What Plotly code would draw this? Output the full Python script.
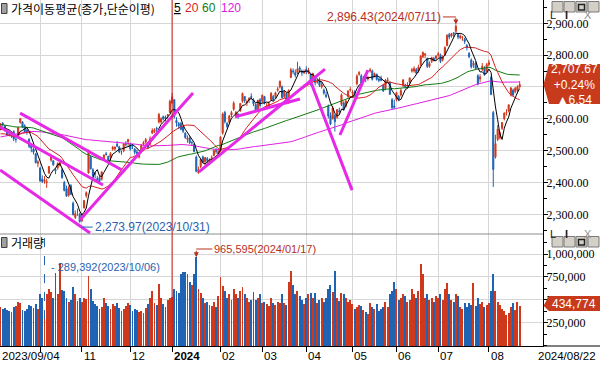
import pandas as pd
import plotly.graph_objects as go

# ---------------- data ----------------
START, END = "2023-09-04", "2024-08-22"
HOLIDAYS = ["2023-09-28", "2023-09-29", "2023-10-02", "2023-10-03", "2023-10-09",
            "2023-12-25", "2023-12-29", "2024-01-01", "2024-02-09", "2024-02-12",
            "2024-03-01", "2024-04-10", "2024-05-01", "2024-05-06", "2024-05-15",
            "2024-06-06", "2024-08-15"]

OPEN = [
    # 2023-09
    2566, 2586, 2578, 2560, 2551, 2552, 2560, 2535, 2540, 2588, 2590, 2578, 2565, 2536, 2515, 2505, 2490, 2460,
    # 2023-10
    2446, 2410, 2403, 2400, 2430, 2470, 2468, 2440, 2446, 2455, 2440, 2400, 2380, 2360, 2390, 2335, 2290, 2310, 2300,
    # 2023-11
    2280, 2320, 2358, 2430, 2480, 2440, 2430, 2412, 2415, 2410, 2470, 2490, 2482, 2480, 2505, 2505, 2520, 2512, 2495, 2500, 2520, 2528,
    # 2023-12
    2520, 2515, 2505, 2496, 2480, 2500, 2520, 2527, 2525, 2520, 2555, 2560, 2570, 2590, 2590, 2607, 2605, 2610, 2620,
    # 2024-01
    2650, 2660, 2595, 2585, 2585, 2575, 2555, 2535, 2540, 2525, 2520, 2480, 2430, 2450, 2480, 2465, 2475, 2465, 2472, 2485, 2500, 2490,
    # 2024-02
    2500, 2555, 2620, 2585, 2590, 2612, 2630, 2610, 2615, 2625, 2655, 2670, 2650, 2660, 2670, 2660, 2645, 2630, 2660,
    # 2024-03
    2655, 2670, 2640, 2640, 2660, 2670, 2670, 2690, 2700, 2700, 2670, 2680, 2650, 2730, 2750, 2745, 2745, 2760, 2750, 2745,
    # 2024-04
    2755, 2745, 2740, 2720, 2725, 2715, 2720, 2700, 2690, 2675, 2640, 2610, 2600, 2610, 2605, 2625, 2645, 2650, 2640, 2670, 2690,
    # 2024-05
    2680, 2685, 2710, 2740, 2735, 2725, 2730, 2725, 2750, 2750, 2735, 2740, 2725, 2725, 2705, 2695, 2720, 2715, 2660, 2640,
    # 2024-06
    2660, 2670, 2675, 2705, 2705, 2705, 2715, 2750, 2750, 2755, 2750, 2770, 2795, 2800, 2790, 2765, 2780, 2790, 2790,
    # 2024-07
    2800, 2800, 2785, 2800, 2830, 2865, 2860, 2870, 2875, 2865, 2855, 2855, 2850, 2830, 2805, 2785, 2770, 2775, 2735, 2725, 2755, 2760, 2750,
    # 2024-08
    2770, 2730, 2620, 2480, 2535, 2540, 2570, 2600, 2620, 2625, 2675, 2690, 2685, 2690, 2700,
]
HIGH = [
    2587, 2590, 2581, 2566, 2560, 2560, 2564, 2545, 2575, 2601, 2593, 2583, 2570, 2538, 2517, 2510, 2493, 2470,
    2447, 2422, 2420, 2412, 2452, 2484, 2470, 2445, 2463, 2474, 2445, 2405, 2390, 2390, 2395, 2340, 2312, 2318, 2305,
    2302, 2345, 2372, 2502, 2485, 2445, 2432, 2420, 2420, 2435, 2488, 2496, 2484, 2495, 2515, 2513, 2530, 2515, 2500, 2523, 2530, 2537,
    2525, 2520, 2508, 2503, 2496, 2520, 2530, 2540, 2527, 2545, 2570, 2570, 2575, 2618, 2605, 2610, 2610, 2615, 2660,
    2681, 2662, 2605, 2590, 2590, 2577, 2558, 2548, 2545, 2530, 2523, 2485, 2450, 2475, 2485, 2480, 2480, 2475, 2485, 2503, 2508, 2505,
    2545, 2620, 2625, 2590, 2612, 2625, 2655, 2625, 2618, 2650, 2682, 2672, 2660, 2668, 2680, 2665, 2650, 2660, 2665,
    2676, 2672, 2650, 2655, 2684, 2675, 2685, 2700, 2720, 2705, 2690, 2682, 2692, 2760, 2758, 2755, 2779, 2765, 2755, 2755,
    2765, 2760, 2745, 2745, 2730, 2725, 2730, 2715, 2695, 2685, 2645, 2620, 2640, 2615, 2630, 2635, 2680, 2655, 2660, 2690, 2700,
    2690, 2690, 2740, 2750, 2740, 2735, 2735, 2735, 2760, 2755, 2745, 2742, 2730, 2735, 2710, 2725, 2730, 2718, 2665, 2660,
    2685, 2675, 2695, 2725, 2710, 2715, 2730, 2760, 2765, 2760, 2770, 2800, 2812, 2805, 2792, 2780, 2795, 2795, 2800,
    2810, 2805, 2800, 2828, 2866, 2870, 2870, 2872, 2896.43, 2870, 2865, 2860, 2855, 2835, 2810, 2790, 2782, 2780, 2740, 2740, 2775, 2765, 2775,
    2785, 2735, 2625, 2550, 2580, 2560, 2590, 2620, 2630, 2645, 2700, 2695, 2700, 2705, 2718,
]
LOW = [
    2565, 2575, 2561, 2547, 2545, 2540, 2530, 2525, 2539, 2585, 2571, 2555, 2550, 2508, 2495, 2488, 2460, 2448,
    2402, 2398, 2396, 2383, 2427, 2465, 2452, 2426, 2440, 2450, 2412, 2372, 2355, 2355, 2360, 2296, 2285, 2295, 2273.97,
    2276, 2318, 2352, 2428, 2441, 2415, 2412, 2400, 2397, 2406, 2468, 2484, 2465, 2470, 2500, 2500, 2510, 2492, 2487, 2495, 2513, 2515,
    2500, 2505, 2488, 2485, 2475, 2498, 2515, 2522, 2505, 2518, 2552, 2555, 2555, 2585, 2585, 2595, 2592, 2600, 2618,
    2646, 2601, 2575, 2568, 2564, 2555, 2537, 2525, 2520, 2515, 2495, 2432, 2428, 2445, 2460, 2455, 2460, 2460, 2470, 2482, 2490, 2485,
    2495, 2550, 2585, 2570, 2585, 2605, 2625, 2605, 2600, 2622, 2650, 2650, 2640, 2650, 2660, 2640, 2620, 2625, 2635,
    2650, 2645, 2630, 2635, 2658, 2655, 2665, 2685, 2695, 2665, 2665, 2650, 2648, 2728, 2740, 2730, 2740, 2745, 2735, 2740,
    2740, 2740, 2705, 2715, 2705, 2710, 2700, 2695, 2675, 2665, 2601, 2580, 2598, 2560, 2600, 2615, 2640, 2625, 2635, 2665, 2685,
    2670, 2670, 2705, 2735, 2710, 2720, 2715, 2720, 2745, 2720, 2730, 2720, 2715, 2718, 2685, 2690, 2715, 2675, 2630, 2630,
    2655, 2655, 2670, 2700, 2695, 2695, 2710, 2745, 2745, 2740, 2745, 2765, 2790, 2790, 2760, 2760, 2775, 2780, 2785,
    2795, 2775, 2780, 2798, 2828, 2850, 2855, 2855, 2870, 2850, 2850, 2845, 2835, 2815, 2790, 2758, 2760, 2755, 2705, 2715, 2750, 2735, 2745,
    2765, 2675, 2386, 2475, 2530, 2535, 2565, 2595, 2610, 2620, 2670, 2670, 2680, 2680, 2698,
]
CLOSE = [
    2584, 2582, 2563, 2548, 2547, 2557, 2537, 2535, 2572, 2601, 2574, 2559, 2559, 2514, 2508, 2495, 2462, 2465,
    2405, 2403, 2408, 2402, 2450, 2479, 2456, 2436, 2460, 2462, 2415, 2375, 2357, 2383, 2363, 2299, 2302, 2310, 2277,
    2301, 2343, 2368, 2502, 2443, 2421, 2427, 2409, 2403, 2433, 2486, 2488, 2469, 2491, 2510, 2511, 2514, 2496, 2495, 2521, 2520, 2535,
    2505, 2514, 2495, 2492, 2492, 2517, 2525, 2535, 2510, 2537, 2563, 2566, 2568, 2614, 2600, 2599, 2602, 2613, 2655,
    2669, 2607, 2587, 2578, 2567, 2561, 2541, 2540, 2525, 2525, 2497, 2435, 2440, 2472, 2464, 2478, 2469, 2470, 2478, 2500, 2498, 2497,
    2543, 2615, 2591, 2576, 2609, 2620, 2649, 2620, 2613, 2648, 2680, 2657, 2653, 2664, 2667, 2647, 2625, 2658, 2642,
    2674, 2649, 2641, 2647, 2680, 2660, 2682, 2693, 2718, 2666, 2685, 2656, 2690, 2754, 2748, 2737, 2757, 2755, 2745, 2746,
    2747, 2753, 2706, 2742, 2714, 2717, 2705, 2706, 2681, 2670, 2609, 2584, 2634, 2591, 2629, 2623, 2675, 2628, 2656, 2687, 2692,
    2683, 2676, 2734, 2745, 2712, 2727, 2727, 2730, 2753, 2724, 2742, 2724, 2721, 2721, 2687, 2722, 2722, 2677, 2635, 2636,
    2682, 2662, 2689, 2722, 2701, 2705, 2728, 2754, 2758, 2744, 2763, 2797, 2808, 2804, 2764, 2774, 2792, 2784, 2797,
    2804, 2780, 2794, 2824, 2862, 2857, 2867, 2867, 2891, 2857, 2860, 2856, 2843, 2824, 2795, 2763, 2774, 2758, 2710, 2731, 2765, 2738, 2770,
    2777, 2676, 2441, 2522, 2568, 2556, 2588, 2618, 2621, 2644, 2697, 2675, 2696, 2701, 2707.67,
]
VOLUME = [  # thousand shares
    420000, 400000, 410000, 390000, 380000, 370000, 420000, 430000, 480000, 460000, 390000, 380000, 400000, 440000, 430000, 410000, 450000, 400000,
    560000, 520000, 289392, 560000, 620000, 590000, 520000, 790000, 560000, 900000, 610000, 600000, 520000, 480000, 500000, 640000, 560000, 490000, 520000,
    480000, 520000, 510000, 760000, 620000, 490000, 450000, 430000, 400000, 420000, 520000, 470000, 430000, 400000, 450000, 430000, 460000, 410000, 380000, 400000, 430000, 470000,
    440000, 380000, 400000, 390000, 370000, 380000, 360000, 410000, 450000, 520000, 600000, 470000, 440000, 670000, 520000, 450000, 420000, 500000, 520000,
    530000, 620000, 600000, 580000, 780000, 800000, 800000, 780000, 700000, 660000, 780000, 965595, 620000, 580000, 520000, 460000, 480000, 440000, 430000, 480000, 420000, 540000,
    750000, 650000, 600000, 520000, 560000, 500000, 620000, 560000, 520000, 600000, 640000, 560000, 520000, 480000, 500000, 590000, 500000, 520000, 560000,
    460000, 480000, 450000, 430000, 520000, 460000, 440000, 480000, 470000, 560000, 470000, 440000, 700000, 820000, 660000, 560000, 600000, 540000, 500000, 450000,
    520000, 560000, 580000, 520000, 580000, 470000, 500000, 520000, 480000, 520000, 620000, 660000, 590000, 810000, 520000, 490000, 580000, 560000, 520000, 480000, 500000,
    450000, 400000, 420000, 440000, 430000, 390000, 370000, 350000, 470000, 420000, 400000, 450000, 380000, 400000, 420000, 480000, 420000, 560000, 600000, 700000,
    620000, 500000, 520000, 560000, 540000, 480000, 500000, 620000, 560000, 520000, 600000, 890000, 780000, 520000, 560000, 500000, 520000, 480000, 540000,
    520000, 560000, 500000, 620000, 680000, 560000, 500000, 480000, 560000, 540000, 420000, 400000, 460000, 420000, 470000, 440000, 680000, 430000, 520000, 450000, 480000, 420000, 440000,
    460000, 600000, 780000, 600000, 480000, 440000, 400000, 380000, 330000, 360000, 420000, 460000, 390000, 480000, 434774,
]
# closes of the 120 sessions before the chart (needed for the moving averages)
WARMUP_CLOSE = [
    2394, 2410, 2348, 2379, 2377, 2395, 2379, 2388, 2416, 2424, 2415, 2414, 2434, 2443, 2453, 2476,
    2479, 2500, 2490, 2495, 2490, 2512, 2547, 2562, 2571, 2575, 2571, 2544, 2576, 2563, 2544, 2523, 2489, 2484, 2495, 2501,
    2500, 2501, 2500, 2509, 2521, 2510, 2496, 2475, 2491, 2479, 2494, 2515, 2537, 2558, 2568, 2554, 2570, 2585, 2558, 2577,
    2601, 2615, 2615, 2641, 2601, 2625, 2630, 2619, 2637, 2608, 2625, 2604, 2582, 2570, 2582, 2570, 2582, 2550, 2564, 2564,
    2602, 2593, 2579, 2556, 2526, 2520, 2562, 2574, 2583, 2619, 2608, 2608, 2600, 2628, 2636, 2592, 2603, 2608, 2632, 2616, 2614,
    2667, 2616, 2605, 2602, 2580, 2573, 2605, 2601, 2591, 2570, 2525, 2519, 2504, 2515, 2537, 2519, 2505, 2537, 2552, 2561, 2556, 2563,
    2563,
]
MA_PERIODS = [5, 20, 60, 120]
MA_COLORS = ["#000000", "#d81e1e", "#107a10", "#e020e0"]

# hand-drawn trend lines: (session index, price) -> (session index, price)
TREND_LINES = [
    (8.9, 2618, 55.2, 2439),
    (-0.2, 2574, 46.6, 2392),
    (-0.2, 2439, 40.7, 2241),
    (36.1, 2282, 87.5, 2681),
    (90.2, 2433, 147.5, 2756),
    (106.6, 2606, 136.1, 2662),
    (140.7, 2722, 159.8, 2376),
    (154.3, 2549, 167.0, 2753),
]
PRICE_TICKS = [2300, 2400, 2500, 2600, 2700, 2800, 2900]
VOL_TICKS = [250000, 500000, 750000, 1000000]
PREV_CLOSE = 2701.13

# ---------------- styles ----------------
RED = "#d0381c"
BLUE = "#1f63b5"
GRID = "#d6d6d6"
PW, PH = 543.0, 346.0          # plot area in px
SPLIT = 234.0                  # px y of the price/volume split
X_RANGE = [-0.227, 246.6]
P_RANGE = [2238.1, 2973.2]
V_RANGE = [-5000, 1220000]
PPX = PW / (X_RANGE[1] - X_RANGE[0])
PPY = SPLIT / (P_RANGE[1] - P_RANGE[0])


def px(x):
    return x / PW


def py(y):
    return 1 - y / PH


dates = pd.bdate_range(START, END, freq="C", holidays=HOLIDAYS)
n = len(CLOSE)
dates = dates[:n]
xs = list(range(n))
closes_all = pd.Series(WARMUP_CLOSE + CLOSE, dtype=float)
mas = {p: closes_all.rolling(p).mean().iloc[-n:].tolist() for p in MA_PERIODS}
month_idx = [i for i in range(1, n) if dates[i].month != dates[i - 1].month]
vol_colors = [RED if c >= o else BLUE for o, c in zip(OPEN, CLOSE)]

fig = go.Figure()
fig.add_trace(go.Bar(x=xs, y=VOLUME, marker=dict(color=vol_colors, line=dict(width=0)),
                     width=0.45, yaxis="y2", xaxis="x", showlegend=False))
for p, col in zip(MA_PERIODS[::-1], MA_COLORS[::-1]):
    fig.add_trace(go.Scatter(x=xs, y=mas[p], mode="lines", line=dict(color=col, width=1),
                             yaxis="y", showlegend=False))
fig.add_trace(go.Candlestick(
    x=xs, open=OPEN, high=HIGH, low=LOW, close=CLOSE, yaxis="y",
    increasing=dict(line=dict(color=RED, width=1), fillcolor=RED),
    decreasing=dict(line=dict(color=BLUE, width=1), fillcolor=BLUE),
    whiskerwidth=0, showlegend=False))
tx, ty = [], []
for x0, y0, x1, y1 in TREND_LINES:
    tx += [x0, x1, None]
    ty += [y0, y1, None]
fig.add_trace(go.Scatter(x=tx, y=ty, mode="lines", line=dict(color="#e629e6", width=3),
                         yaxis="y", showlegend=False, connectgaps=False))

shapes = []
ann = []
FONT = "Liberation Sans"
NARROW = "Liberation Sans Narrow"

# separator between panes
shapes.append(dict(type="line", xref="paper", yref="paper", x0=0, x1=1, y0=py(SPLIT), y1=py(SPLIT),
                   line=dict(color="#8c8c8c", width=1)))
# bottom axis line extension
shapes.append(dict(type="line", xref="paper", yref="paper", x0=1, x1=600 / PW, y0=0, y1=0,
                   line=dict(color="#000000", width=1)))
# year marker line
y24 = [i for i in month_idx if dates[i].year == 2024 and dates[i].month == 1][0]
shapes.append(dict(type="line", xref="x", yref="paper", x0=y24, x1=y24, y0=0, y1=1,
                   line=dict(color="#d01c1c", width=1)))

# max / min price markers
imax = max(range(n), key=lambda i: HIGH[i])
imin = min(range(n), key=lambda i: LOW[i])
hi, lo = HIGH[imax], LOW[imin]
y_lbl = hi + 7.5 / PPY
shapes.append(dict(type="line", xref="x", yref="y", x0=imax - 13 / PPX, x1=imax, y0=y_lbl, y1=y_lbl,
                   line=dict(color="#b8301c", width=1)))
ann.append(dict(x=imax, y=hi, xref="x", yref="y", ax=0, ay=-8, text="", showarrow=True,
                arrowhead=2, arrowsize=1, arrowwidth=1, arrowcolor="#b8301c"))
ann.append(dict(x=imax, y=y_lbl, xref="x", yref="y", xanchor="right", yanchor="middle", xshift=-13,
                text=f"{hi:,.2f}({dates[imax]:%Y/%m/%d})", showarrow=False,
                font=dict(family=FONT, size=12, color="#b8301c")))
y_lo = lo - 4.5 / PPY
shapes.append(dict(type="line", xref="x", yref="y", x0=imin + 2 / PPX, x1=imin + 13 / PPX, y0=y_lo, y1=y_lo,
                   line=dict(color="#2a62b0", width=1)))
ann.append(dict(x=imin, y=y_lo, xref="x", yref="y", xanchor="left", yanchor="middle", xshift=13,
                text=f"{lo:,.2f}({dates[imin]:%Y/%m/%d})", showarrow=False,
                font=dict(family=FONT, size=12, color="#2a62b0")))

# volume min / max markers
vmin_i = min(range(n), key=lambda i: VOLUME[i])
vmax_i = max(range(n), key=lambda i: VOLUME[i])
shapes.append(dict(type="line", xref="x", yref="y2", x0=vmin_i, x1=vmin_i, y0=VOLUME[vmin_i], y1=V_RANGE[1],
                   line=dict(color="#2a62b0", width=1, dash="dash")))
v_txt = (345.5 - 267) / 22.85 * 250000
ann.append(dict(x=vmin_i, y=v_txt, xref="x", yref="y2", xanchor="left", yanchor="middle", xshift=4,
                text=f"- {VOLUME[vmin_i]:,}({dates[vmin_i]:%Y/%m/%d})", showarrow=False,
                font=dict(family=FONT, size=11, color="#2a62b0")))
v_top = (345.5 - 249) / 22.85 * 250000
shapes.append(dict(type="line", xref="x", yref="y2", x0=vmax_i, x1=vmax_i + 16 / PPX, y0=v_top, y1=v_top,
                   line=dict(color="#b8301c", width=1)))
ann.append(dict(x=vmax_i, y=VOLUME[vmax_i], xref="x", yref="y2", ax=0, ay=-8, text="", showarrow=True,
                arrowhead=2, arrowsize=1, arrowwidth=1, arrowcolor="#b8301c"))
ann.append(dict(x=vmax_i, y=v_top, xref="x", yref="y2", xanchor="left", yanchor="middle", xshift=16,
                text=f"{VOLUME[vmax_i]:,}({dates[vmax_i]:%Y/%m/%d})", showarrow=False,
                font=dict(family=FONT, size=11, color="#b8301c")))

# pane headers
for yy in (8.5, 242.5):
    shapes.append(dict(type="rect", xref="paper", yref="paper", x0=px(1.5), x1=px(7), y0=py(yy - 5), y1=py(yy + 5),
                       fillcolor="#a0a0a0", line=dict(color="#404040", width=1)))
ann.append(dict(x=px(9), y=py(8.5), xref="paper", yref="paper", xanchor="left", yanchor="middle",
                text="가격이동평균(종가,단순이평)", showarrow=False,
                font=dict(family="Noto Sans CJK KR", size=12, color="#000000")))
for xp, t, col in [(172, "<u>5</u>", "#000000"), (183, "20", "#d81e1e"), (200, "60", "#107a10"), (218.5, "120", "#e020e0")]:
    ann.append(dict(x=px(xp), y=py(8.5), xref="paper", yref="paper", xanchor="left", yanchor="middle",
                    text=t, showarrow=False, font=dict(family=FONT, size=12, color=col)))
ann.append(dict(x=px(9), y=py(242.5), xref="paper", yref="paper", xanchor="left", yanchor="middle",
                text="거래량", showarrow=False,
                font=dict(family="Noto Sans CJK KR", size=12, color="#000000")))

# window buttons
for top in (1.5, 236.5):
    for k, lab in enumerate(["L", "<b>I</b>", "", "X"]):
        x0 = 552 + k * 12
        shapes.append(dict(type="rect", xref="paper", yref="paper", x0=px(x0), x1=px(x0 + 11),
                           y0=py(top), y1=py(top + 10.5), fillcolor="#d4d0c8",
                           line=dict(color="#7a7a7a", width=1)))
        if lab:
            ann.append(dict(x=px(x0 + 5.5), y=py(top + 5.5), xref="paper", yref="paper", text=lab,
                            showarrow=False, font=dict(family=FONT, size=11,
                                                       color="#909090" if lab == "X" else "#202020")))
        else:
            shapes.append(dict(type="rect", xref="paper", yref="paper", x0=px(x0 + 2.5), x1=px(x0 + 8.5),
                               y0=py(top + 3), y1=py(top + 8.5), line=dict(color="#202020", width=1.5)))

# current price / volume boxes
last = CLOSE[-1]
chg = last - PREV_CLOSE
yp = 23.3 + (2900 - last) * 0.3183
path = (f"M {px(543.5)},{py(yp)} L {px(549)},{py(64)} L {px(600)},{py(64)} "
        f"L {px(600)},{py(104)} L {px(549)},{py(104)} Z")
shapes.append(dict(type="path", xref="paper", yref="paper", path=path, fillcolor="#c83a1c", line=dict(width=0)))
ann.append(dict(x=px(574.5), y=py(84), xref="paper", yref="paper", xanchor="center", yanchor="middle",
                text=f"{last:,.2f}<br>+{chg / PREV_CLOSE * 100:.2f}%<br>▲{chg:.2f}", showarrow=False,
                align="center", font=dict(family=FONT, size=12, color="#ffffff")))
yv = 345.5 - VOLUME[-1] / 250000 * 22.85
path = (f"M {px(543.5)},{py(yv)} L {px(549)},{py(296)} L {px(600)},{py(296)} "
        f"L {px(600)},{py(311)} L {px(549)},{py(311)} Z")
shapes.append(dict(type="path", xref="paper", yref="paper", path=path, fillcolor="#c83a1c", line=dict(width=0)))
ann.append(dict(x=px(573.5), y=py(303.5), xref="paper", yref="paper", xanchor="center", yanchor="middle",
                text=f"{VOLUME[-1]:,}", showarrow=False, font=dict(family=FONT, size=12, color="#ffffff")))

# bottom date labels
ann.append(dict(x=0, y=py(356), xref="paper", yref="paper", xanchor="left", yanchor="middle",
                text=f"{dates[0]:%Y/%m/%d}", showarrow=False, font=dict(family=FONT, size=11.5, color="#000")))
ann.append(dict(x=px(597.5), y=py(356), xref="paper", yref="paper", xanchor="right", yanchor="middle",
                text=f"{dates[-1]:%Y/%m/%d}", showarrow=False, font=dict(family=FONT, size=11.5, color="#000")))
for i in month_idx:
    if dates[i].month == 10:
        continue
    lab = f"<b>{dates[i].year}</b>" if dates[i].month == 1 else f"{dates[i].month:02d}"
    ann.append(dict(x=i, y=py(356), xref="x", yref="paper", xanchor="left", yanchor="middle", xshift=0,
                    text=lab, showarrow=False, font=dict(family=FONT, size=11.5, color="#000")))

fig.update_layout(
    width=600, height=366, margin=dict(l=0, r=57, t=0, b=20),
    paper_bgcolor="#ffffff", plot_bgcolor="#ffffff", showlegend=False, bargap=0,
    xaxis=dict(domain=[0, 1], range=X_RANGE, anchor="y2", tickvals=month_idx, showticklabels=False,
               ticks="outside", ticklen=5, tickcolor="#000", showgrid=True, gridcolor=GRID, gridwidth=1,
               showline=True, linecolor="#000", linewidth=1, zeroline=False, fixedrange=True,
               rangeslider=dict(visible=False)),
    yaxis=dict(domain=[py(SPLIT), 1], range=P_RANGE, side="right", anchor="x", tickvals=PRICE_TICKS,
               tickformat=",.2f", ticks="outside", ticklen=4, tickcolor="#000", automargin=False,
               ticklabelstandoff=-4,
               minor=dict(dtick=50, tick0=2250, ticks="outside", ticklen=3, tickcolor="#000", showgrid=False),
               showgrid=True, gridcolor=GRID, showline=True, linecolor="#000", zeroline=False,
               tickfont=dict(family=NARROW, size=12, color="#000")),
    yaxis2=dict(domain=[0, py(SPLIT)], range=V_RANGE, side="right", anchor="x", tickvals=VOL_TICKS,
                tickformat=",d", ticks="outside", ticklen=4, tickcolor="#000", automargin=False,
                ticklabelstandoff=-4,
                minor=dict(dtick=125000, tick0=0, ticks="outside", ticklen=3, tickcolor="#000", showgrid=False),
                showgrid=True, gridcolor=GRID, showline=True, linecolor="#000", zeroline=False,
                tickfont=dict(family=NARROW, size=12, color="#000")),
    shapes=shapes, annotations=ann,
)
fig.write_html("out.html", config={"displayModeBar": False},
               post_script="document.body.style.margin='0px';document.body.style.overflow='hidden';")
